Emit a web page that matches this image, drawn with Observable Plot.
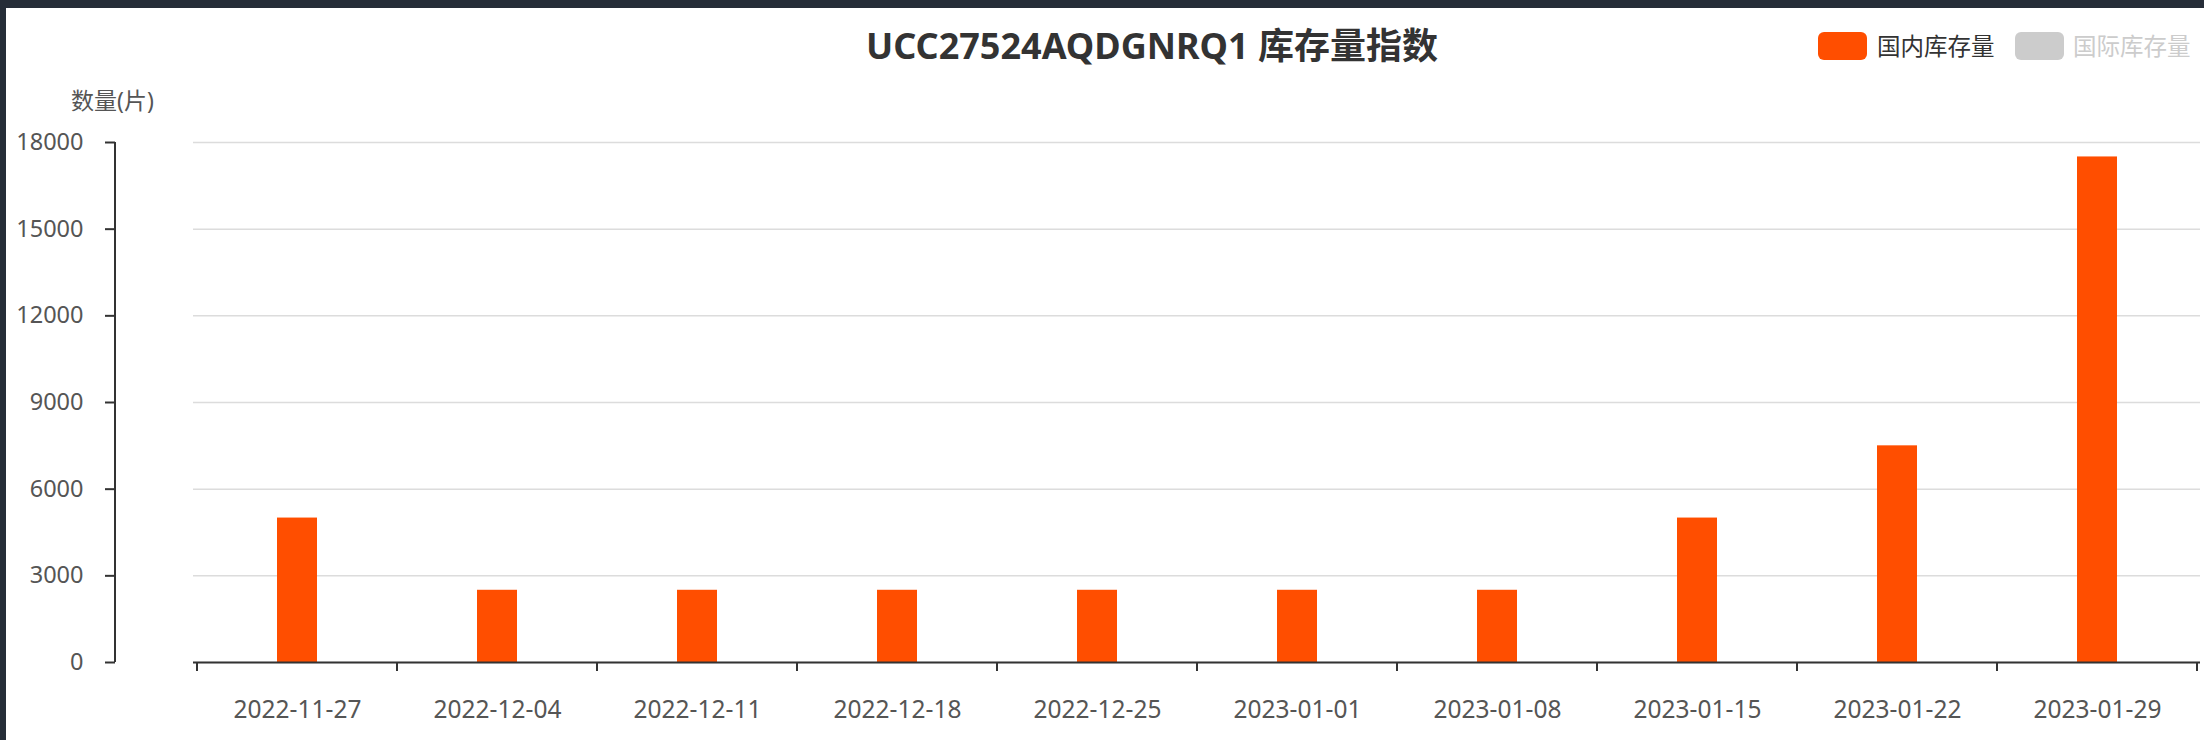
<!DOCTYPE html>
<html>
<head>
<meta charset="utf-8">
<script src="https://cdn.jsdelivr.net/npm/d3@7"></script>
<script src="https://cdn.jsdelivr.net/npm/@observablehq/plot@0.6"></script>
<style>
html,body{margin:0;padding:0;}
body{width:2204px;height:740px;background:#262d38;position:relative;overflow:hidden;font-family:"Noto Sans","Noto Sans CJK SC",sans-serif;}
#panel{position:absolute;left:6px;top:8px;width:2198px;height:732px;background:#fff;}
#title{position:absolute;left:1146px;top:20px;transform:translateX(-50%);white-space:nowrap;font-size:36px;line-height:36px;font-weight:bold;color:#333;}
.lg-rect{position:absolute;top:24px;width:49px;height:28px;border-radius:6px;}
.lg-text{position:absolute;top:23px;font-size:23.5px;line-height:30px;white-space:nowrap;}
#chart{position:absolute;left:0;top:80px;}
</style>
</head>
<body>
<div id="panel">
  <div id="title"></div>
  <div id="legend"></div>
  <div id="chart"></div>
</div>
<script>
// ---- data ----
const titleText = "UCC27524AQDGNRQ1 库存量指数";
const yAxisTitle = "数量(片)";
const seriesNames = ["国内库存量", "国际库存量"];
const dates = ["2022-11-27","2022-12-04","2022-12-11","2022-12-18","2022-12-25","2023-01-01","2023-01-08","2023-01-15","2023-01-22","2023-01-29"];
const domestic = [5000, 2500, 2500, 2500, 2500, 2500, 2500, 5000, 7500, 17500];
const yTicks = [0, 3000, 6000, 9000, 12000, 15000, 18000];

const ORANGE = "#ff4e00";
const GREY = "#cccccc";

const data = dates.map((d, i) => ({date: d, value: domestic[i]}));

document.getElementById("title").textContent = titleText;

// legend
const legend = document.getElementById("legend");
const legendItems = [
  {name: seriesNames[0], color: ORANGE, text: "#333", rectLeft: 1812, textLeft: 1871},
  {name: seriesNames[1], color: GREY, text: "#cccccc", rectLeft: 2009, textLeft: 2067}
];
legendItems.forEach(it => {
  const r = document.createElement("div");
  r.className = "lg-rect"; r.style.left = it.rectLeft + "px"; r.style.background = it.color;
  const t = document.createElement("div");
  t.className = "lg-text"; t.style.left = it.textLeft + "px"; t.style.color = it.text;
  t.textContent = it.name;
  legend.appendChild(r); legend.appendChild(t);
});

function customAxes(...args) {
  const scales = args.find(a => a && typeof a.x === "function" && typeof a.y === "function");
  const dims = args.find(a => a && a.marginLeft !== undefined && a.width !== undefined);
  const x = scales.x, y = scales.y;
  const dom = x.domain();
  const step = x.step ? x.step() : (dims.width - dims.marginLeft - dims.marginRight) / dom.length;
  const bw = x.bandwidth ? x.bandwidth() : 0;
  const y0 = y(0);
  const g = d3.create("svg:g").attr("stroke", "#333").attr("stroke-width", 2).attr("fill", "none");
  const bounds = dom.map(d => x(d) + bw / 2 - step / 2);
  bounds.push(x(dom[dom.length - 1]) + bw / 2 + step / 2);
  bounds.forEach(b => {
    g.append("line").attr("x1", b).attr("x2", b).attr("y1", y0).attr("y2", y0 + 9);
  });
  const ax = dims.marginLeft - 78;
  g.append("line").attr("x1", ax).attr("x2", ax)
    .attr("y1", y(yTicks[yTicks.length - 1])).attr("y2", y0);
  return g.node();
}

const plot = Plot.plot({
  width: 2198,
  height: 652,
  marginLeft: 187,
  marginRight: 4,
  marginTop: 54,
  marginBottom: 78,
  style: {fontFamily: '"Noto Sans","Noto Sans CJK SC",sans-serif', fontSize: "23.5px", color: "#555", background: "transparent", overflow: "visible"},
  x: {domain: dates, paddingInner: 0.8, paddingOuter: 0.4, label: null},
  y: {domain: [0, 18000], label: null},
  marks: [
    Plot.gridY(yTicks, {stroke: "#dcdcdc", strokeOpacity: 1, strokeWidth: 1.5}),
    Plot.barY(data, {x: "date", y: "value", fill: ORANGE}),
    Plot.ruleY([0], {stroke: "#333", strokeWidth: 2}),
    Plot.axisY(yTicks, {anchor: "left", dx: -78, tickSize: 10, tickPadding: 22, stroke: "#333", strokeWidth: 2, fill: "#555", fontSize: 23.5, tickFormat: d3.format("d"), label: null}),
    Plot.axisX({anchor: "bottom", tickSize: 0, tickPadding: 38, fill: "#555", fontSize: 24.5, label: null}),
    customAxes,
    Plot.text([yAxisTitle], {text: d => d, frameAnchor: "top-left", dx: -81, dy: -50, textAnchor: "middle", fill: "#555", fontSize: 23})
  ]
});
document.getElementById("chart").appendChild(plot);
</script>
</body>
</html>
